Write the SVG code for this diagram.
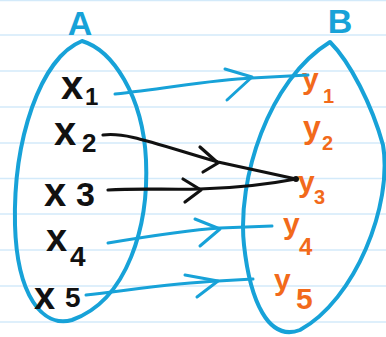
<svg xmlns="http://www.w3.org/2000/svg" width="386" height="337" viewBox="0 0 386 337">
  <style>
    .rule { stroke: #d3eafa; stroke-width: 1.6; }
    .set { fill: none; stroke: #17a2d8; stroke-width: 4; stroke-linejoin: round; }
    .map-blue { fill: none; stroke: #17a2d8; stroke-width: 3; stroke-linecap: round; stroke-linejoin: round; }
    .map-black { fill: none; stroke: #111; stroke-width: 3.2; stroke-linecap: round; stroke-linejoin: round; }
    .set-label { font-family: "Liberation Sans", Arial, sans-serif; font-size: 34px; font-weight: bold; fill: #17a2d8; text-anchor: middle; }
    .dom { font-family: "Liberation Sans", Arial, sans-serif; font-weight: bold; fill: #111; }
    .cod { font-family: "Liberation Sans", Arial, sans-serif; font-weight: bold; fill: #f26a1b; }
  </style>

  <!-- lined paper -->
  <rect width="386" height="337" fill="#ffffff"/>
  <g id="paper">
    <line class="rule" x1="0" y1="0.5" x2="386" y2="0.5"/>
    <line class="rule" x1="0" y1="35" x2="386" y2="35"/>
    <line class="rule" x1="0" y1="71" x2="386" y2="71"/>
    <line class="rule" x1="0" y1="107" x2="386" y2="107"/>
    <line class="rule" x1="0" y1="143" x2="386" y2="143"/>
    <line class="rule" x1="0" y1="178.5" x2="386" y2="178.5"/>
    <line class="rule" x1="0" y1="214" x2="386" y2="214"/>
    <line class="rule" x1="0" y1="250" x2="386" y2="250"/>
    <line class="rule" x1="0" y1="286" x2="386" y2="286"/>
    <line class="rule" x1="0" y1="322" x2="386" y2="322"/>
  </g>

  <!-- set A -->
  <g id="set-A">
    <path class="set" d="M82,41 C112,50 143,95 146,160 C149,225 128,300 72,320 C42,328 17,295 15,225 C13,140 40,58 82,41 Z"/>
    <text class="set-label" x="80" y="35">A</text>
  </g>

  <!-- set B -->
  <g id="set-B">
    <path class="set" d="M330,42 C350,62 372,105 383,145 C393,205 355,300 300,330 C268,342 250,300 244,245 C237,180 268,80 330,42 Z"/>
    <text class="set-label" x="340" y="33">B</text>
  </g>

  <!-- domain elements -->
  <g id="x1"><text class="dom" x="61" y="99" font-size="40">x<tspan x="85" y="105" font-size="24">1</tspan></text></g>
  <g id="x2"><text class="dom" x="54" y="145" font-size="40">x<tspan x="82" y="152" font-size="26">2</tspan></text></g>
  <g id="x3"><text class="dom" x="44" y="206" font-size="40">x<tspan x="76" font-size="34">3</tspan></text></g>
  <g id="x4"><text class="dom" x="46" y="251" font-size="38">x<tspan x="70" y="266" font-size="28">4</tspan></text></g>
  <g id="x5"><text class="dom" x="34" y="309" font-size="38">x<tspan x="65" y="307" font-size="28">5</tspan></text></g>

  <!-- codomain elements -->
  <g id="y1"><text class="cod" x="302" y="89" font-size="30">y<tspan x="323" y="103" font-size="20">1</tspan></text></g>
  <g id="y2"><text class="cod" x="303" y="138" font-size="32">y<tspan x="322" y="150" font-size="20">2</tspan></text></g>
  <g id="y3"><text class="cod" x="298" y="192" font-size="30">y<tspan x="314" y="204" font-size="20">3</tspan></text></g>
  <g id="y4"><text class="cod" x="283" y="234" font-size="30">y<tspan x="299" y="255" font-size="24">4</tspan></text></g>
  <g id="y5"><text class="cod" x="274" y="290" font-size="30">y<tspan x="296" y="309" font-size="30">5</tspan></text></g>

  <!-- mapping arrows -->
  <g id="connectors">
    <!-- x1 -> y1 -->
    <path class="map-blue" d="M115,94 C170,88 210,80 252,78 L308,75"/>
    <path class="map-blue" d="M225,69 L252,77 L227,100"/>
    <!-- x2 -> y3 -->
    <path class="map-black" d="M103,135 C125,132 150,142 218,162 L296,179"/>
    <path class="map-black" d="M200,147 L218,163 L203,172"/>
    <!-- x3 -> y3 -->
    <path class="map-black" d="M108,190 C140,188 170,190 200,189 C240,188 270,184 296,179"/>
    <path class="map-black" d="M183,179 L201,190 L185,202"/>
    <circle cx="296" cy="179" r="3" fill="#111"/>
    <!-- x4 -> y4 -->
    <path class="map-blue" d="M108,243 C150,236 190,230 220,228 L272,226"/>
    <path class="map-blue" d="M195,219 L220,229 L200,246"/>
    <!-- x5 -> y5 -->
    <path class="map-blue" d="M86,295 C130,290 175,283 218,281 L253,279"/>
    <path class="map-blue" d="M185,275 L218,281 L197,297"/>
  </g>
</svg>
